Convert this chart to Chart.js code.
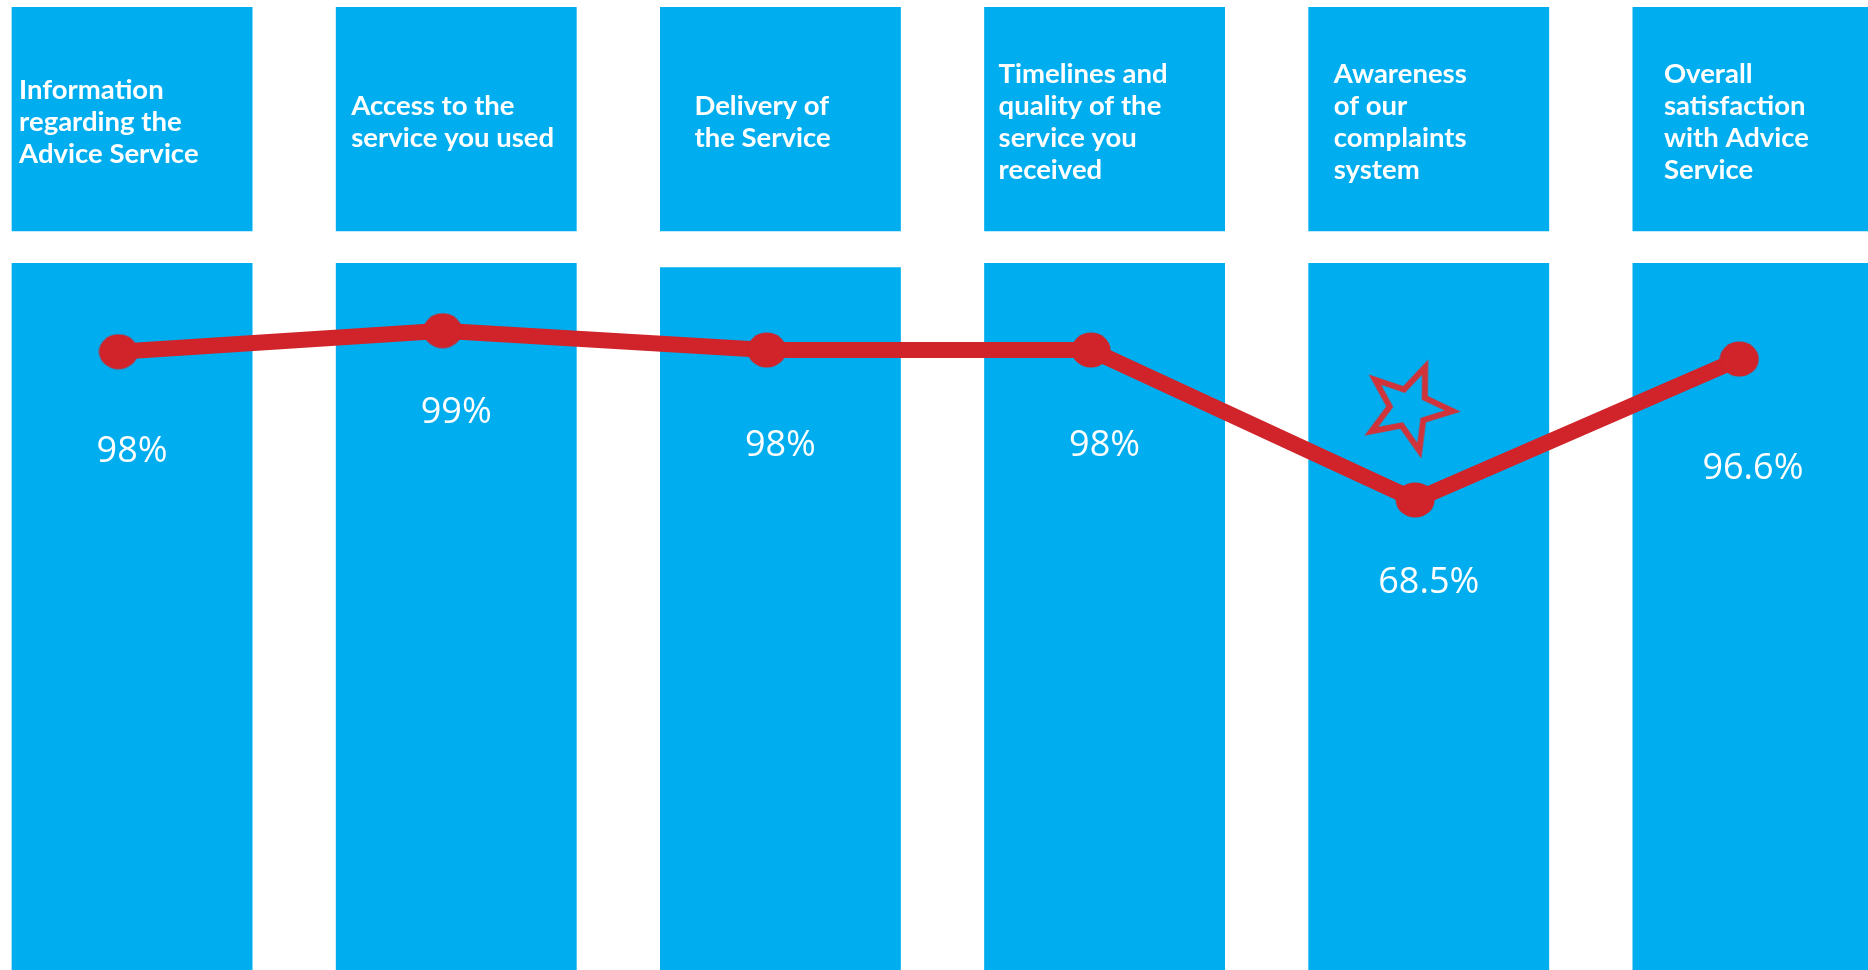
<!DOCTYPE html>
<html>
<head>
<meta charset="utf-8">
<script src="https://cdn.jsdelivr.net/npm/chart.js@4/dist/chart.umd.min.js"></script>
<style>
  html, body { margin: 0; padding: 0; background: #fff; overflow: hidden; }
  #wrap { position: relative; width: 1868px; height: 970px; overflow: hidden; }
  #chart { position: absolute; left: -30px; top: 0; }
</style>
</head>
<body>
<div id="wrap"><canvas id="chart" width="1945" height="970"></canvas></div>
<script>
// survey questions (one column each)
const categories = [
  ["Information", "regarding the", "Advice Service"],
  ["Access to the", "service you used"],
  ["Delivery of", "the Service"],
  ["Timelines and", "quality of the", "service you", "received"],
  ["Awareness", "of our", "complaints", "system"],
  ["Overall", "satisfaction", "with Advice", "Service"]
]
const scoreLabels = ["98%", "99%", "98%", "98%", "68.5%", "96.6%"]

// column height and the header band, in the chart's own units
const columnHeights = [100, 100, 99.4, 100, 100, 100]
const headerBand = [104.5, 136.2]

// level of the red trend line as drawn in the picture
const trend = [87.45, 90.42, 87.69, 87.69, 66.48, 86.42]
const starMarker = { x: 3.98, y: 79.5 }

const BLUE = "#00AEEF"
const RED = "#D0232A"

// styling only: where text sits inside each column
const headerIndent = [-113, -105, -86, -106, -95, -89]
const labelDrop = [110, 92, 106, 106, 93, 120]

function makeStar() {
  const c = document.createElement("canvas")
  c.width = 110
  c.height = 110
  const g = c.getContext("2d")
  const R = 44, r = 19, rot = 22 * Math.PI / 180
  g.beginPath()
  for (let i = 0; i < 10; i++) {
    const a = rot + i * Math.PI / 5
    const rad = i % 2 === 0 ? R : r
    const px = 55 + rad * Math.sin(a)
    const py = 55 - rad * Math.cos(a)
    if (i === 0) g.moveTo(px, py)
    else g.lineTo(px, py)
  }
  g.closePath()
  g.lineWidth = 6
  g.lineJoin = "miter"
  g.strokeStyle = "#D0343A"
  g.stroke()
  return c
}

// the dots are a little wider than tall
function makeDot() {
  const c = document.createElement("canvas")
  c.width = 40
  c.height = 36
  const g = c.getContext("2d")
  g.beginPath()
  g.ellipse(20, 18, 19.5, 17.5, 0, 0, Math.PI * 2)
  g.fillStyle = RED
  g.fill()
  return c
}

const panelText = {
  id: "panelText",
  afterDatasetsDraw(chart) {
    const { ctx } = chart
    const x = chart.scales.x
    const y = chart.scales.y
    ctx.save()
    ctx.fillStyle = "#ffffff"

    // header text
    ctx.font = "bold 27.5px Lato"
    ctx.textAlign = "left"
    ctx.textBaseline = "alphabetic"
    const mid = (y.getPixelForValue(headerBand[0]) + y.getPixelForValue(headerBand[1])) / 2 + 12
    categories.forEach((lines, i) => {
      const left = x.getPixelForValue(i) + headerIndent[i]
      lines.forEach((line, k) => {
        ctx.fillText(line, left, mid + (k - (lines.length - 1) / 2) * 31.8)
      })
    })

    // value labels
    ctx.font = "36px 'Open Sans'"
    ctx.textAlign = "center"
    scoreLabels.forEach((txt, i) => {
      ctx.fillText(txt, x.getPixelForValue(i), y.getPixelForValue(trend[i]) + labelDrop[i])
    })
    ctx.restore()
  }
}

new Chart(document.getElementById("chart"), {
  type: "bar",
  data: {
    labels: categories.map(c => c.join(" ")),
    datasets: [
      {
        label: "header",
        data: categories.map(() => headerBand),
        backgroundColor: BLUE,
        borderWidth: 0,
        grouped: false,
        barPercentage: 0.743,
        categoryPercentage: 1,
        order: 3
      },
      {
        label: "column",
        data: columnHeights,
        backgroundColor: BLUE,
        borderWidth: 0,
        grouped: false,
        barPercentage: 0.743,
        categoryPercentage: 1,
        order: 3
      },
      {
        type: "line",
        label: "trend",
        xAxisID: "x2",
        data: trend.map((v, i) => ({ x: i, y: v })),
        borderColor: RED,
        borderWidth: 16,
        backgroundColor: RED,
        pointStyle: makeDot(),
        pointRadius: 18,
        tension: 0,
        clip: false,
        order: 1
      },
      {
        type: "line",
        label: "star",
        xAxisID: "x2",
        data: [starMarker],
        showLine: false,
        pointStyle: makeStar(),
        clip: false,
        order: 0
      }
    ]
  },
  options: {
    responsive: false,
    animation: false,
    devicePixelRatio: 1,
    layout: { padding: 0, autoPadding: false },
    plugins: {
      legend: { display: false },
      tooltip: { enabled: false }
    },
    scales: {
      x: { display: false, offset: true },
      x2: { type: "linear", display: false, offset: false, min: -0.458, max: 5.542 },
      y: { display: false, min: 0, max: 137.2 }
    }
  },
  plugins: [panelText]
})
</script>
</body>
</html>
